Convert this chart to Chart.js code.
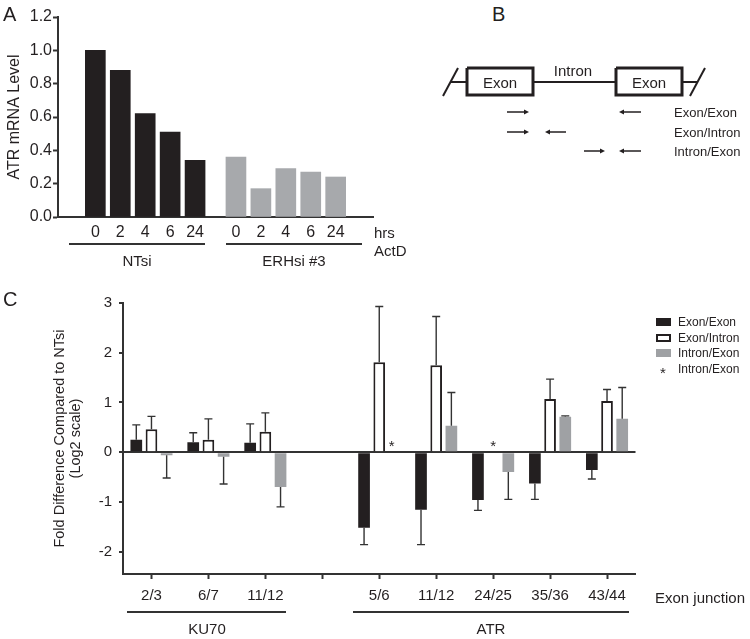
<!DOCTYPE html>
<html><head><meta charset="utf-8">
<script src="https://cdn.jsdelivr.net/npm/chart.js@4.4.1/dist/chart.umd.min.js"></script>
<style>
body{margin:0;width:750px;height:639px;background:#fff;position:relative;overflow:hidden;font-family:"Liberation Sans",Arial,sans-serif;color:#231f20}
canvas{position:absolute}
.t{position:absolute;white-space:nowrap;line-height:1}
.c{transform:translate(-50%,-50%)}
.l{transform:translateY(-50%)}
.hl{position:absolute;height:2px;background:#333}
.sw{position:absolute;width:15px;height:8px;box-sizing:border-box}
</style></head><body>
<canvas id="a" width="420" height="280" style="left:0;top:0"></canvas>
<canvas id="b" width="330" height="120" style="left:420px;top:50px"></canvas>
<canvas id="c" width="750" height="359" style="left:0;top:280px"></canvas>

<div class="t l" style="left:3px;top:14px;font-size:20px">A</div>
<div class="t l" style="left:492px;top:14px;font-size:20px">B</div>
<div class="t l" style="left:3px;top:299px;font-size:20px">C</div>

<div class="t l" style="left:374px;top:232px;font-size:15px">hrs</div>
<div class="t l" style="left:374px;top:250px;font-size:15px">ActD</div>
<div class="hl" style="left:69px;width:136px;top:243px"></div>
<div class="hl" style="left:226px;width:136px;top:243px"></div>
<div class="t c" style="left:137px;top:260px;font-size:15px">NTsi</div>
<div class="t c" style="left:294px;top:260px;font-size:15px">ERHsi #3</div>

<div class="t c" style="left:500px;top:82px;font-size:15px">Exon</div>
<div class="t c" style="left:649px;top:82px;font-size:15px">Exon</div>
<div class="t c" style="left:573px;top:70px;font-size:15px">Intron</div>
<div class="t l" style="left:674px;top:112px;font-size:13px">Exon/Exon</div>
<div class="t l" style="left:674px;top:132px;font-size:13px">Exon/Intron</div>
<div class="t l" style="left:674px;top:151px;font-size:13px">Intron/Exon</div>

<div class="t l" style="left:655px;top:597px;font-size:15px">Exon junction</div>
<div class="hl" style="left:127px;width:159px;top:611px"></div>
<div class="hl" style="left:353px;width:276px;top:611px"></div>
<div class="t c" style="left:207px;top:628px;font-size:15px">KU70</div>
<div class="t c" style="left:491px;top:628px;font-size:15px">ATR</div>

<div class="sw" style="left:656px;top:318px;background:#231f20"></div>
<div class="sw" style="left:656px;top:334px;background:#fff;border:2px solid #231f20"></div>
<div class="sw" style="left:656px;top:349px;background:#9fa1a4"></div>
<div class="t c" style="left:663px;top:372px;font-size:15px">*</div>
<div class="t l" style="left:678px;top:322px;font-size:12px">Exon/Exon</div>
<div class="t l" style="left:678px;top:338px;font-size:12px">Exon/Intron</div>
<div class="t l" style="left:678px;top:353px;font-size:12px">Intron/Exon</div>
<div class="t l" style="left:678px;top:369px;font-size:12px">Intron/Exon</div>

<script>
// ---------- Panel A data ----------
const hoursNTsi = ['0','2','4','6','24'];
const hoursERH = ['0','2','4','6','24'];
const atrLevelNTsi = [1.00, 0.88, 0.62, 0.51, 0.34];
const atrLevelERH = [0.36, 0.17, 0.29, 0.27, 0.24];
const levelTicks = [0, 0.2, 0.4, 0.6, 0.8, 1.0, 1.2];

// ---------- Panel C data ----------
const junctions = ['2/3','6/7','11/12','','5/6','11/12','24/25','35/36','43/44'];
const exonExon      = [0.25, 0.20, 0.19, null, -1.52, -1.16, -0.96, -0.63, -0.36];
const exonExonErr   = [0.30, 0.19, 0.38, null,  0.34,  0.70,  0.21,  0.32,  0.18];
const exonIntron    = [0.46, 0.25, 0.41, null,  1.81,  1.75,  null,  1.07,  1.03];
const exonIntronErr = [0.26, 0.42, 0.38, null,  1.12,  0.98,  null,  0.40,  0.23];
const intronExon    = [-0.06, -0.09, -0.70, null, null, 0.53, -0.40, 0.71, 0.67];
const intronExonErr = [0.46, 0.55, 0.40, null, null, 0.67, 0.55, 0.02, 0.63];
// asterisks (undetected Intron/Exon): junction index (+ shift within group) and level
const starJunction = [4.22, 6.0];
const starLevel = [0.14, 0.14];

Chart.defaults.font.family = '"Liberation Sans", Arial, sans-serif';
Chart.defaults.color = '#231f20';
Chart.defaults.animation = false;

// ---------- Panel A ----------
const erhShift = 5.64;
const posA = hoursNTsi.map((h,i)=>i).concat(hoursERH.map((h,i)=>i+erhShift));
const labA = hoursNTsi.concat(hoursERH);
new Chart(document.getElementById('a'), {
  type: 'bar',
  data: { datasets: [
    { data: atrLevelNTsi.map((v,i)=>({x:i, y:v})), backgroundColor:'#231f20', barThickness:20, grouped:false },
    { data: atrLevelERH.map((v,i)=>({x:i+erhShift, y:v})), backgroundColor:'#a7a9ac', barThickness:20, grouped:false }
  ]},
  options: {
    responsive:false, events:[],
    layout:{ padding:{ top:17, right:47, left:0, bottom:0 } },
    plugins:{ legend:{display:false}, tooltip:{enabled:false} },
    scales:{
      x:{ type:'linear', min:-0.866, max:10.505,
          afterBuildTicks:s=>{ s.ticks = posA.map(v=>({value:v})); },
          afterFit:s=>{ s.height = 63; },
          grid:{ display:false, drawTicks:false },
          border:{ display:true, color:'#333', width:2 },
          ticks:{ autoSkip:false, maxRotation:0, padding:6, font:{size:16}, color:'#231f20',
                  callback:(v)=>{ const k = posA.findIndex(p=>Math.abs(p-v)<1e-6); return k<0?'':labA[k]; } } },
      y:{ min:0, max:1.2,
          afterBuildTicks:s=>{ s.ticks = levelTicks.map(v=>({value:v})); },
          afterFit:s=>{ s.width = 58; },
          grid:{ drawOnChartArea:false, color:'rgba(0,0,0,0)', tickColor:'#333', tickLength:5, tickWidth:2 },
          border:{ display:true, color:'#333', width:2 },
          ticks:{ padding:1, font:{size:16}, color:'#231f20', callback:v=>Number(v).toFixed(1) },
          title:{ display:true, text:'ATR mRNA Level', font:{size:16}, padding:{top:5,bottom:0}, color:'#231f20' } }
    }
  }
});

// ---------- Panel B (schematic) ----------
const boxLeft  = [[467,68],[533,68],[533,95],[467,95],[467,68]];
const boxRight = [[616,68],[682,68],[682,95],[616,95],[616,68]];
const intronLine = [[533,82],[616,82]];
const stubLeft = [[450,82],[467,82]];
const stubRight = [[682,82],[698,82]];
const slashLeft = [[443,96],[458,68]];
const slashRight = [[690,96],[705,68]];
// arrows: [xStart, xHead, y]
const arrows = [[507,529,112],[641,619,112],[507,529,132],[566,545,132],[584,605,151],[641,619,151]];
const toPts = a => a.map(p=>({x:p[0], y:p[1]}));
const arrowPlugin = {
  id:'arrows',
  afterDatasetsDraw(chart){
    const {ctx, scales:{x,y}} = chart;
    ctx.save(); ctx.strokeStyle='#231f20'; ctx.fillStyle='#231f20'; ctx.lineWidth=1.5;
    arrows.forEach(([x0,x1,yy])=>{
      const px0=x.getPixelForValue(x0), px1=x.getPixelForValue(x1), py=y.getPixelForValue(yy);
      const dir = Math.sign(px1-px0);
      ctx.beginPath(); ctx.moveTo(px0,py); ctx.lineTo(px1-dir*3,py); ctx.stroke();
      ctx.beginPath(); ctx.moveTo(px1,py); ctx.lineTo(px1-dir*5,py-2.5); ctx.lineTo(px1-dir*5,py+2.5); ctx.closePath(); ctx.fill();
    });
    ctx.restore();
  }
};
const lineDs = (pts,w) => ({ data:toPts(pts), showLine:true, borderColor:'#231f20', borderWidth:w, pointRadius:0, borderCapStyle:'butt', borderJoinStyle:'miter' });
new Chart(document.getElementById('b'), {
  type:'scatter',
  data:{ datasets:[ lineDs(stubLeft,2), lineDs(stubRight,2), lineDs(intronLine,2), lineDs(slashLeft,2), lineDs(slashRight,2), lineDs(boxLeft,3), lineDs(boxRight,3) ] },
  options:{
    responsive:false, events:[],
    layout:{ padding:0 },
    plugins:{ legend:{display:false}, tooltip:{enabled:false} },
    scales:{ x:{ type:'linear', min:420, max:750, display:false },
             y:{ type:'linear', min:50, max:170, reverse:true, display:false } }
  },
  plugins:[arrowPlugin]
});

// ---------- Panel C ----------
const errPlugin = {
  id:'errbars',
  afterDatasetsDraw(chart){
    const ctx = chart.ctx, xs = chart.scales.x, ys = chart.scales.y;
    chart.data.datasets.forEach((ds,i)=>{
      if (!ds.errors) return;
      const meta = chart.getDatasetMeta(i);
      meta.data.forEach((bar,j)=>{
        const v = ds.data[j], e = ds.errors[j];
        if (v==null || e==null) return;
        const end = v + (v>=0 ? e : -e);
        const yp = ys.getPixelForValue(end);
        ctx.save(); ctx.strokeStyle='#333'; ctx.lineWidth=1.4;
        ctx.beginPath(); ctx.moveTo(bar.x, bar.y); ctx.lineTo(bar.x, yp);
        ctx.moveTo(bar.x-4, yp); ctx.lineTo(bar.x+4, yp); ctx.stroke(); ctx.restore();
      });
    });
    // asterisks marking undetected Intron/Exon
    ctx.save(); ctx.fillStyle='#231f20'; ctx.font='15px "Liberation Sans", Arial, sans-serif';
    ctx.textAlign='center'; ctx.textBaseline='middle';
    starJunction.forEach((v,i)=>{
      ctx.fillText('*', xs.getPixelForValue(v), ys.getPixelForValue(starLevel[i]) + 2);
    });
    ctx.restore();
  }
};
const barOpts = { categoryPercentage:0.8, barPercentage:0.77 };
new Chart(document.getElementById('c'), {
  type:'bar',
  data:{ labels: junctions, datasets:[
    Object.assign({ label:'Exon/Exon', data:exonExon, errors:exonExonErr, backgroundColor:'#231f20' }, barOpts),
    Object.assign({ label:'Exon/Intron', data:exonIntron, errors:exonIntronErr, backgroundColor:'#ffffff', borderColor:'#231f20', borderWidth:2 }, barOpts),
    Object.assign({ label:'Intron/Exon', data:intronExon, errors:intronExonErr, backgroundColor:'#9fa1a4' }, barOpts)
  ]},
  options:{
    responsive:false, events:[],
    layout:{ padding:{ top:23, right:114.5, left:0, bottom:0 } },
    plugins:{ legend:{display:false}, tooltip:{enabled:false} },
    scales:{
      x:{ type:'category', offset:true,
          afterFit:s=>{ s.height = 65; },
          grid:{ offset:false, drawOnChartArea:false, color:'rgba(0,0,0,0)', tickColor:'#333', tickLength:5, tickWidth:2 },
          border:{ display:true, color:'#333', width:2 },
          ticks:{ autoSkip:false, maxRotation:0, padding:8, font:{size:15}, color:'#231f20' } },
      y:{ min:-2.45, max:3, z:1,
          afterBuildTicks:s=>{ s.ticks = s.ticks.filter(t=>Number.isInteger(t.value)); },
          afterFit:s=>{ s.width = 123; },
          grid:{ color:c=> (c.tick && c.tick.value===0) ? '#333' : 'rgba(0,0,0,0)', lineWidth:2, tickColor:'#333', tickLength:4, tickWidth:2 },
          border:{ display:true, color:'#333', width:2 },
          ticks:{ stepSize:1, padding:7, font:{size:15}, color:'#231f20' },
          title:{ display:true, text:['Fold Difference Compared to NTsi','(Log2 scale)'], font:{size:14.5, lineHeight:1.1}, padding:{top:52,bottom:0}, color:'#231f20' } }
    }
  },
  plugins:[errPlugin]
});
</script>
</body></html>
